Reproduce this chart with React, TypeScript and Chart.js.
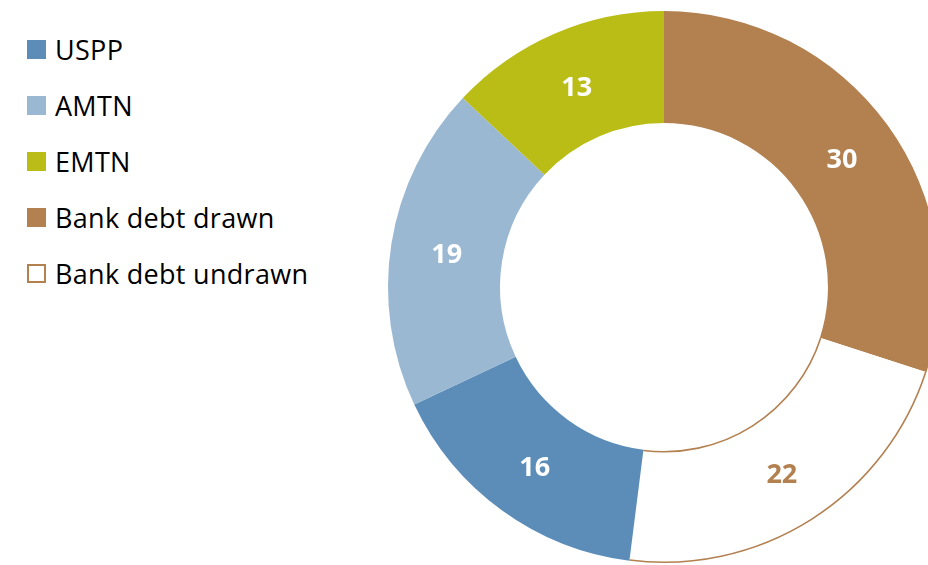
import React, { useEffect, useRef } from "react";
import { Chart, registerables } from "chart.js";

Chart.register(...registerables);

const categories = ["Bank debt drawn", "Bank debt undrawn", "USPP", "AMTN", "EMTN"];
const values = [30, 22, 16, 19, 13];
const fillColors = ["#B38050", "#FFFFFF", "#5B8DB8", "#9BB8D3", "#BBBD17"];
const labelColors = ["#FFFFFF", "#B38050", "#FFFFFF", "#FFFFFF", "#FFFFFF"];
const legendOrder = ["USPP", "AMTN", "EMTN", "Bank debt drawn", "Bank debt undrawn"];

const BROWN = "#B38050";
const FONT = "'Open Sans', 'Noto Sans', sans-serif";

const CX = 664;
const CY = 287;
const SIZE = 600;

const labelPlugin = {
  id: "sliceLabels",
  afterDatasetsDraw(chart: any) {
    const ctx = chart.ctx;
    const meta = chart.getDatasetMeta(0);
    // outline of the undrawn slice
    const undrawnIdx = categories.indexOf("Bank debt undrawn");
    const arc = meta.data[undrawnIdx] as any;
    if (arc) {
      const { x, y, startAngle, endAngle, innerRadius, outerRadius } = arc.getProps(
        ["x", "y", "startAngle", "endAngle", "innerRadius", "outerRadius"],
        true
      );
      ctx.save();
      ctx.strokeStyle = BROWN;
      ctx.lineWidth = 1.6;
      ctx.beginPath();
      ctx.arc(x, y, outerRadius - 0.8, startAngle, endAngle);
      ctx.stroke();
      ctx.beginPath();
      ctx.arc(x, y, innerRadius + 0.8, startAngle, endAngle);
      ctx.stroke();
      ctx.restore();
    }
    ctx.save();
    ctx.font = `bold 27px ${FONT}`;
    ctx.textAlign = "center";
    ctx.textBaseline = "middle";
    meta.data.forEach((el: any, i: number) => {
      const p = el.tooltipPosition(false);
      ctx.fillStyle = labelColors[i];
      ctx.fillText(String(values[i]), p.x, p.y + 3);
    });
    ctx.restore();
  },
};

export default function App() {
  const ref = useRef<HTMLCanvasElement | null>(null);

  useEffect(() => {
    if (!ref.current) return;
    const chart = new Chart(ref.current, {
      type: "doughnut",
      data: {
        labels: categories,
        datasets: [
          {
            data: values,
            backgroundColor: fillColors,
            borderWidth: 0,
            hoverOffset: 0,
            offset: 0,
          },
        ],
      },
      options: {
        responsive: false,
        animation: false,
        radius: 276,
        cutout: "59.4%",
        layout: { padding: 0 },
        plugins: {
          legend: { display: false },
          tooltip: { enabled: false },
        },
        events: [],
      } as any,
      plugins: [labelPlugin],
    });
    return () => chart.destroy();
  }, []);

  const boxColor = (name: string) => fillColors[categories.indexOf(name)];

  return (
    <div
      style={{
        position: "fixed",
        left: 0,
        top: 0,
        width: 928,
        height: 565,
        overflow: "hidden",
        background: "#FFFFFF",
      }}
    >
      <canvas
        ref={ref}
        width={SIZE}
        height={SIZE}
        style={{
          position: "absolute",
          left: CX - SIZE / 2,
          top: CY - SIZE / 2,
          width: SIZE,
          height: SIZE,
        }}
      />
      {legendOrder.map((name, i) => {
        const isUndrawn = name === "Bank debt undrawn";
        return (
          <div key={name}>
            <div
              style={{
                position: "absolute",
                left: 27,
                top: 40 + i * 56,
                width: 19,
                height: 19,
                boxSizing: "border-box",
                background: boxColor(name),
                border: isUndrawn ? `2px solid ${BROWN}` : "none",
              }}
            />
            <div
              style={{
                position: "absolute",
                left: 55,
                top: 40 + i * 56 + 9.5 - 18,
                height: 36,
                lineHeight: "36px",
                fontFamily: FONT,
                fontSize: 27,
                letterSpacing: 0.3,
                color: "#000000",
                whiteSpace: "nowrap",
              }}
            >
              {name}
            </div>
          </div>
        );
      })}
    </div>
  );
}
